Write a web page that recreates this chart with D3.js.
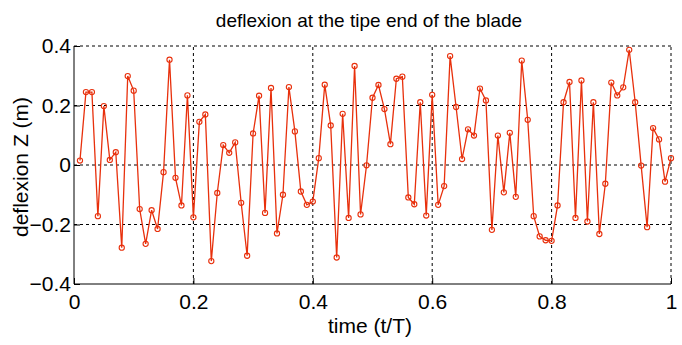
<!DOCTYPE html>
<html>
<head>
<meta charset="utf-8">
<script src="https://cdn.jsdelivr.net/npm/d3@7"></script>
<style>
  body { margin: 0; background: #fff; }
  svg text { font-family: "Liberation Sans", Arial, sans-serif; }
</style>
</head>
<body>
<div id="chart"></div>
<script>
// deflexion samples, t = 0.01 .. 1.00
const deflexion = [
  0.015, 0.245, 0.245, -0.172, 0.198, 0.017, 0.043, -0.278, 0.299, 0.250,
  -0.148, -0.265, -0.152, -0.215, -0.024, 0.354, -0.043, -0.136, 0.234, -0.176,
  0.145, 0.170, -0.323, -0.094, 0.067, 0.041, 0.076, -0.127, -0.305, 0.106,
  0.233, -0.161, 0.259, -0.230, -0.100, 0.262, 0.113, -0.089, -0.134, -0.123,
  0.023, 0.270, 0.133, -0.311, 0.172, -0.178, 0.333, -0.166, -0.001, 0.226,
  0.269, 0.188, 0.070, 0.290, 0.297, -0.109, -0.132, 0.211, -0.170, 0.236,
  -0.134, -0.071, 0.366, 0.195, 0.020, 0.120, 0.099, 0.257, 0.217, -0.218,
  0.099, -0.092, 0.108, -0.107, 0.351, 0.152, -0.172, -0.240, -0.253, -0.255,
  -0.136, 0.211, 0.279, -0.178, 0.284, -0.190, 0.211, -0.232, -0.063, 0.277,
  0.234, 0.261, 0.387, 0.211, -0.002, -0.209, 0.124, 0.086, -0.056, 0.023
];
const times = deflexion.map((d, i) => +((i + 1) / 100).toFixed(2));
const xTicks = [0, 0.2, 0.4, 0.6, 0.8, 1];
const yTicks = [-0.4, -0.2, 0, 0.2, 0.4];

const W = 682, H = 345;
const m = {left: 74, right: 11, top: 46, bottom: 61};

const svg = d3.select('#chart').append('svg')
    .attr('width', W)
    .attr('height', H);

const x = d3.scaleLinear().domain([0, 1]).range([m.left, W - m.right]);
const y = d3.scaleLinear().domain([-0.4, 0.4]).range([H - m.bottom, m.top]);

// grid
svg.append('g').selectAll('line.gx')
    .data(xTicks.slice(1))
    .enter().append('line')
    .attr('x1', d => x(d)).attr('x2', d => x(d))
    .attr('y1', y(-0.4)).attr('y2', y(0.4))
    .attr('stroke', '#000').attr('stroke-width', 1)
    .attr('stroke-dasharray', '3,3');
svg.append('g').selectAll('line.gy')
    .data(yTicks.slice(1))
    .enter().append('line')
    .attr('x1', x(0)).attr('x2', x(1))
    .attr('y1', d => y(d)).attr('y2', d => y(d))
    .attr('stroke', '#000').attr('stroke-width', 1)
    .attr('stroke-dasharray', '3,3');

// axes
const xAxis = svg.append('g')
    .attr('transform', 'translate(0,' + y(-0.4) + ')')
    .call(d3.axisBottom(x).tickValues(xTicks).tickSize(-6).tickPadding(10)
        .tickFormat(d => d3.format('~g')(d)));
const yAxis = svg.append('g')
    .attr('transform', 'translate(' + x(0) + ',0)')
    .call(d3.axisLeft(y).tickValues(yTicks).tickSize(-6).tickPadding(3)
        .tickFormat(d => d3.format('.1f')(d).replace('0.0', '0')));
[xAxis, yAxis].forEach(g => {
    g.select('.domain').remove();
    g.selectAll('line').attr('stroke', '#000');
    g.selectAll('text').attr('font-size', 21).attr('fill', '#000')
        .style('font-family', '"Liberation Sans", Arial, sans-serif');
});
svg.append('line')
    .attr('x1', x(0)).attr('x2', x(1)).attr('y1', y(-0.4)).attr('y2', y(-0.4))
    .attr('stroke', '#000');
svg.append('line')
    .attr('x1', x(0)).attr('x2', x(0)).attr('y1', y(-0.4)).attr('y2', y(0.4))
    .attr('stroke', '#000');

// series
const col = '#e8300c';
const line = d3.line().x((d, i) => x(times[i])).y(d => y(d));
svg.append('path')
    .datum(deflexion)
    .attr('d', line)
    .attr('fill', 'none')
    .attr('stroke', col)
    .attr('stroke-width', 1.3);
svg.append('g').selectAll('circle')
    .data(deflexion)
    .enter().append('circle')
    .attr('cx', (d, i) => x(times[i]))
    .attr('cy', d => y(d))
    .attr('r', 2.6)
    .attr('fill', 'none')
    .attr('stroke', col)
    .attr('stroke-width', 1.1);

// labels
svg.append('text')
    .attr('x', 369).attr('y', 27)
    .attr('text-anchor', 'middle')
    .attr('font-size', 19)
    .text('deflexion at the tipe end of the blade');
svg.append('text')
    .attr('x', 370).attr('y', 333)
    .attr('text-anchor', 'middle')
    .attr('font-size', 21)
    .text('time (t/T)');
svg.append('text')
    .attr('transform', 'translate(28,' + (y(0) + 2) + ') rotate(-90)')
    .attr('text-anchor', 'middle')
    .attr('font-size', 21)
    .text('deflexion Z (m)');
</script>
</body>
</html>
